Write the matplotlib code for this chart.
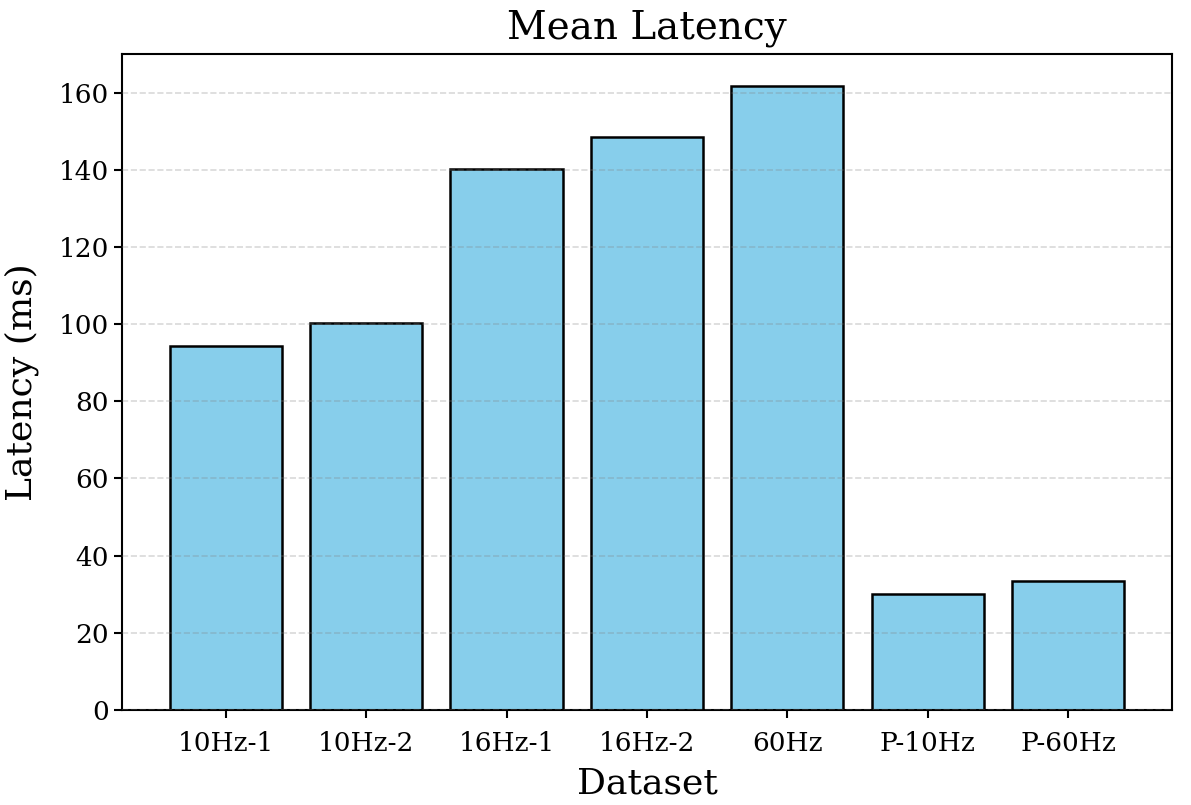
import matplotlib.pyplot as plt
import numpy as np

datasets = ["10Hz-1", "10Hz-2", "16Hz-1", "16Hz-2", "60Hz", "P-10Hz", "P-60Hz"]
latency_ms = [94.2, 100.2, 140.3, 148.6, 161.8, 30.0, 33.4]

plt.rcParams["font.family"] = "DejaVu Serif"

fig, ax = plt.subplots(figsize=(11.91, 8.05), dpi=100)
fig.subplots_adjust(left=0.1024, right=0.984, top=0.933, bottom=0.118)

x = np.arange(len(datasets))
ax.bar(x, latency_ms, width=0.8, color="skyblue", edgecolor="black", linewidth=1.8)

ax.set_xticks(x)
ax.set_xticklabels(datasets)
ax.set_ylim(0, 170)
ax.tick_params(axis="both", labelsize=19, width=1.5, length=6)
ax.tick_params(axis="x", pad=9)
for s in ax.spines.values():
    s.set_linewidth(1.5)

ax.yaxis.grid(True, linestyle="--", color="gray", alpha=0.3, linewidth=1.2)
ax.set_axisbelow(False)

ax.set_title("Mean Latency", fontsize=28, pad=11)
ax.set_xlabel("Dataset", fontsize=26, labelpad=8)
ax.set_ylabel("Latency (ms)", fontsize=26, labelpad=14)

fig.savefig("out.png", dpi=100)
